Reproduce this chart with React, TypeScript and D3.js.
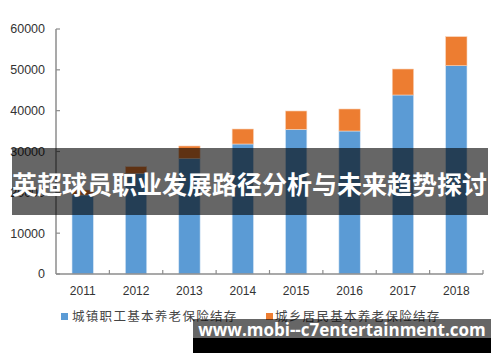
import React from "react";
import * as d3 from "d3";

const years = ["2011", "2012", "2013", "2014", "2015", "2016", "2017", "2018"];
const urbanEmployee = [19350, 24650, 28330, 31840, 35430, 35020, 43840, 51020];
const ruralResident = [1220, 1630, 3020, 3670, 4490, 5390, 6360, 7100];
const yTicks = [0, 10000, 20000, 30000, 40000, 50000, 60000];
const seriesNames = ["城镇职工基本养老保险结存", "城乡居民基本养老保险结存"];
const title = "英超球员职业发展路径分析与未来趋势探讨";
const watermark = "www.mobi--c7entertainment.com";

const W = 500;
const H = 362;
const left = 56;
const right = 483;
const top = 29;
const bottom = 274;
const blue = "#5b9bd5";
const orange = "#ed7d31";

export default function App() {
  const x = d3.scaleBand<string>().domain(years).range([left, right]).paddingInner(0.6).paddingOuter(0.3);
  const xb = d3.scaleBand<string>().domain(years).range([left, right]);
  const y = d3.scaleLinear().domain([0, 60000]).range([bottom, top]);
  const axisColor = "#8c8c8c";
  return (
    <svg width={W} height={H} style={{ position: "absolute", left: 0, top: 0 }}>
      <rect x={0} y={0} width={W} height={H} fill="#fff" />
      {years.map((yr, i) => {
        const bx = x(yr)!;
        const bw = x.bandwidth();
        const b0 = y(urbanEmployee[i]);
        const b1 = y(urbanEmployee[i] + ruralResident[i]);
        return (
          <g key={yr}>
            <rect x={bx} y={b0} width={bw} height={bottom - b0} fill={blue} stroke="#d6e6f5" strokeWidth={0.6} />
            <rect x={bx} y={b1} width={bw} height={b0 - b1} fill={orange} stroke="#f9d3b8" strokeWidth={0.6} />
          </g>
        );
      })}
      {/* y axis */}
      <line x1={left} x2={left} y1={top} y2={bottom} stroke={axisColor} strokeWidth={1.5} />
      {yTicks.map((t) => (
        <g key={t}>
          <line x1={left} x2={left + 4} y1={y(t)} y2={y(t)} stroke={axisColor} strokeWidth={1.2} />
          <text x={45} y={y(t)} dy="0.35em" textAnchor="end" fontFamily="Liberation Sans, Arial, sans-serif" fontSize={12.5} fill="#333">
            {t}
          </text>
        </g>
      ))}
      {/* x axis */}
      <line x1={left} x2={right} y1={bottom} y2={bottom} stroke={axisColor} strokeWidth={1.5} />
      {years.map((yr) => (
        <g key={yr}>
          <line x1={xb(yr)! + xb.bandwidth()} x2={xb(yr)! + xb.bandwidth()} y1={bottom} y2={bottom - 4} stroke={axisColor} strokeWidth={1.2} />
          <text x={xb(yr)! + xb.bandwidth() / 2} y={295} textAnchor="middle" fontFamily="Liberation Sans, Arial, sans-serif" fontSize={12} fill="#333">
            {yr}
          </text>
        </g>
      ))}
      {/* legend */}
      <rect x={61} y={313} width={7} height={7} fill={blue} />
      <text x={72} y={320.5} fontFamily="Noto Sans CJK SC, sans-serif" fontSize={12.5} letterSpacing={1.3} fill="#444">
        {seriesNames[0]}
      </text>
      <rect x={266} y={313} width={7} height={7} fill={orange} />
      <text x={275} y={320.5} fontFamily="Noto Sans CJK SC, sans-serif" fontSize={12.5} letterSpacing={1.3} fill="#444">
        {seriesNames[1]}
      </text>
      {/* title overlay */}
      <rect x={12} y={148} width={476} height={67} fill="rgba(0,0,0,0.6)" />
      <text x={249.5} y={185} dy="0.35em" textAnchor="middle" fontFamily="Noto Sans CJK SC, sans-serif" fontWeight={700} fontSize={25} fill="#fff">
        {title}
      </text>
      {/* watermark */}
      <rect x={193} y={319} width={298} height={20} fill="rgba(0,0,0,0.6)" />
      <rect x={193} y={338} width={298} height={15} fill="#000" />
      <text x={342} y={336} textAnchor="middle" fontFamily="Open Sans, sans-serif" fontWeight={700} fontSize={17} fill="#fff">
        {watermark}
      </text>
    </svg>
  );
}
